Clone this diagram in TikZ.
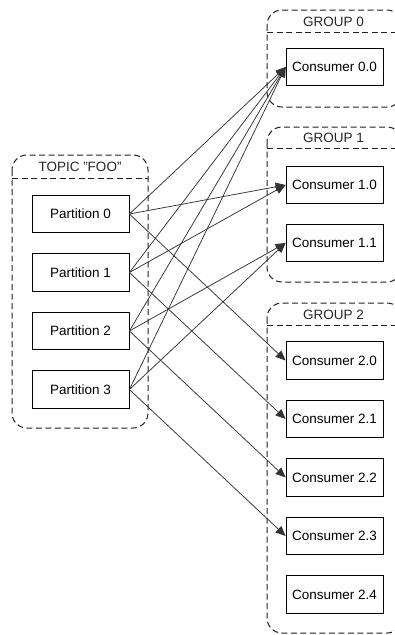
\documentclass[tikz,border=0pt]{standalone}
\usepackage{fontspec}
\setmainfont{Liberation Sans}
\usetikzlibrary{arrows.meta}
\definecolor{linegray}{HTML}{333333}
\definecolor{dashgray}{HTML}{202020}
\begin{document}
\begin{tikzpicture}[x=1pt,y=-1pt,
  font=\fontsize{13.5}{15}\selectfont,
  box/.style={draw=black,line width=0.8pt,fill=white,minimum width=97pt,minimum height=37.5pt,inner sep=0pt},
  frame/.style={draw=dashgray,line width=1pt,dash pattern=on 6pt off 3.5pt,rounded corners=15pt},
  divider/.style={draw=dashgray,line width=1pt,dash pattern=on 6pt off 3.5pt},
  title/.style={inner sep=0pt,text=black!85},
  link/.style={draw=linegray,line width=0.75pt,-{Triangle[length=10pt,width=8.5pt]}}]
\useasboundingbox (0,0) rectangle (395,635);
\begin{scope}
\clip (0,0) rectangle (395,635);
% topic container
\draw[frame] (12,155) rectangle (148,428);
\draw[divider] (12,178) -- (148,178);
\node[title] (topic) at (80,167) {TOPIC \symbol{34}FOO\symbol{34}};
% consumer group containers
\draw[frame] (267,10) rectangle (402,107);
\draw[divider] (267,32) -- (402,32);
\node[title] (g0) at (333.5,21.5) {GROUP 0};
\draw[frame] (267,127) rectangle (402,282);
\draw[divider] (267,148) -- (402,148);
\node[title] (g1) at (333.5,138) {GROUP 1};
\draw[frame] (267,303) rectangle (402,633);
\draw[divider] (267,325) -- (402,325);
\node[title] (g2) at (333.5,314.5) {GROUP 2};
\end{scope}
% partitions
\node[box] (p0) at (80.5,214) {Partition 0};
\node[box] (p1) at (80.5,272.5) {Partition 1};
\node[box] (p2) at (80.5,331) {Partition 2};
\node[box] (p3) at (80.5,389.5) {Partition 3};
% consumers
\node[box] (c00) at (334.5,67) {Consumer 0.0};
\node[box] (c10) at (334.5,185) {Consumer 1.0};
\node[box] (c11) at (334.5,243) {Consumer 1.1};
\node[box] (c20) at (334.5,360.5) {Consumer 2.0};
\node[box] (c21) at (334.5,419) {Consumer 2.1};
\node[box] (c22) at (334.5,477.5) {Consumer 2.2};
\node[box] (c23) at (334.5,536) {Consumer 2.3};
\node[box] (c24) at (334.5,594.5) {Consumer 2.4};
% group 0: one consumer reads every partition
\foreach \p in {p0,p1,p2,p3} \draw[link] (\p.east) -- (c00.west);
% group 1: two partitions per consumer
\draw[link] (p0.east) -- (c10.west);
\draw[link] (p1.east) -- (c10.west);
\draw[link] (p2.east) -- (c11.west);
\draw[link] (p3.east) -- (c11.west);
% group 2: one partition per consumer, one idle
\draw[link] (p0.east) -- (c20.west);
\draw[link] (p1.east) -- (c21.west);
\draw[link] (p2.east) -- (c22.west);
\draw[link] (p3.east) -- (c23.west);
\end{tikzpicture}
\end{document}
